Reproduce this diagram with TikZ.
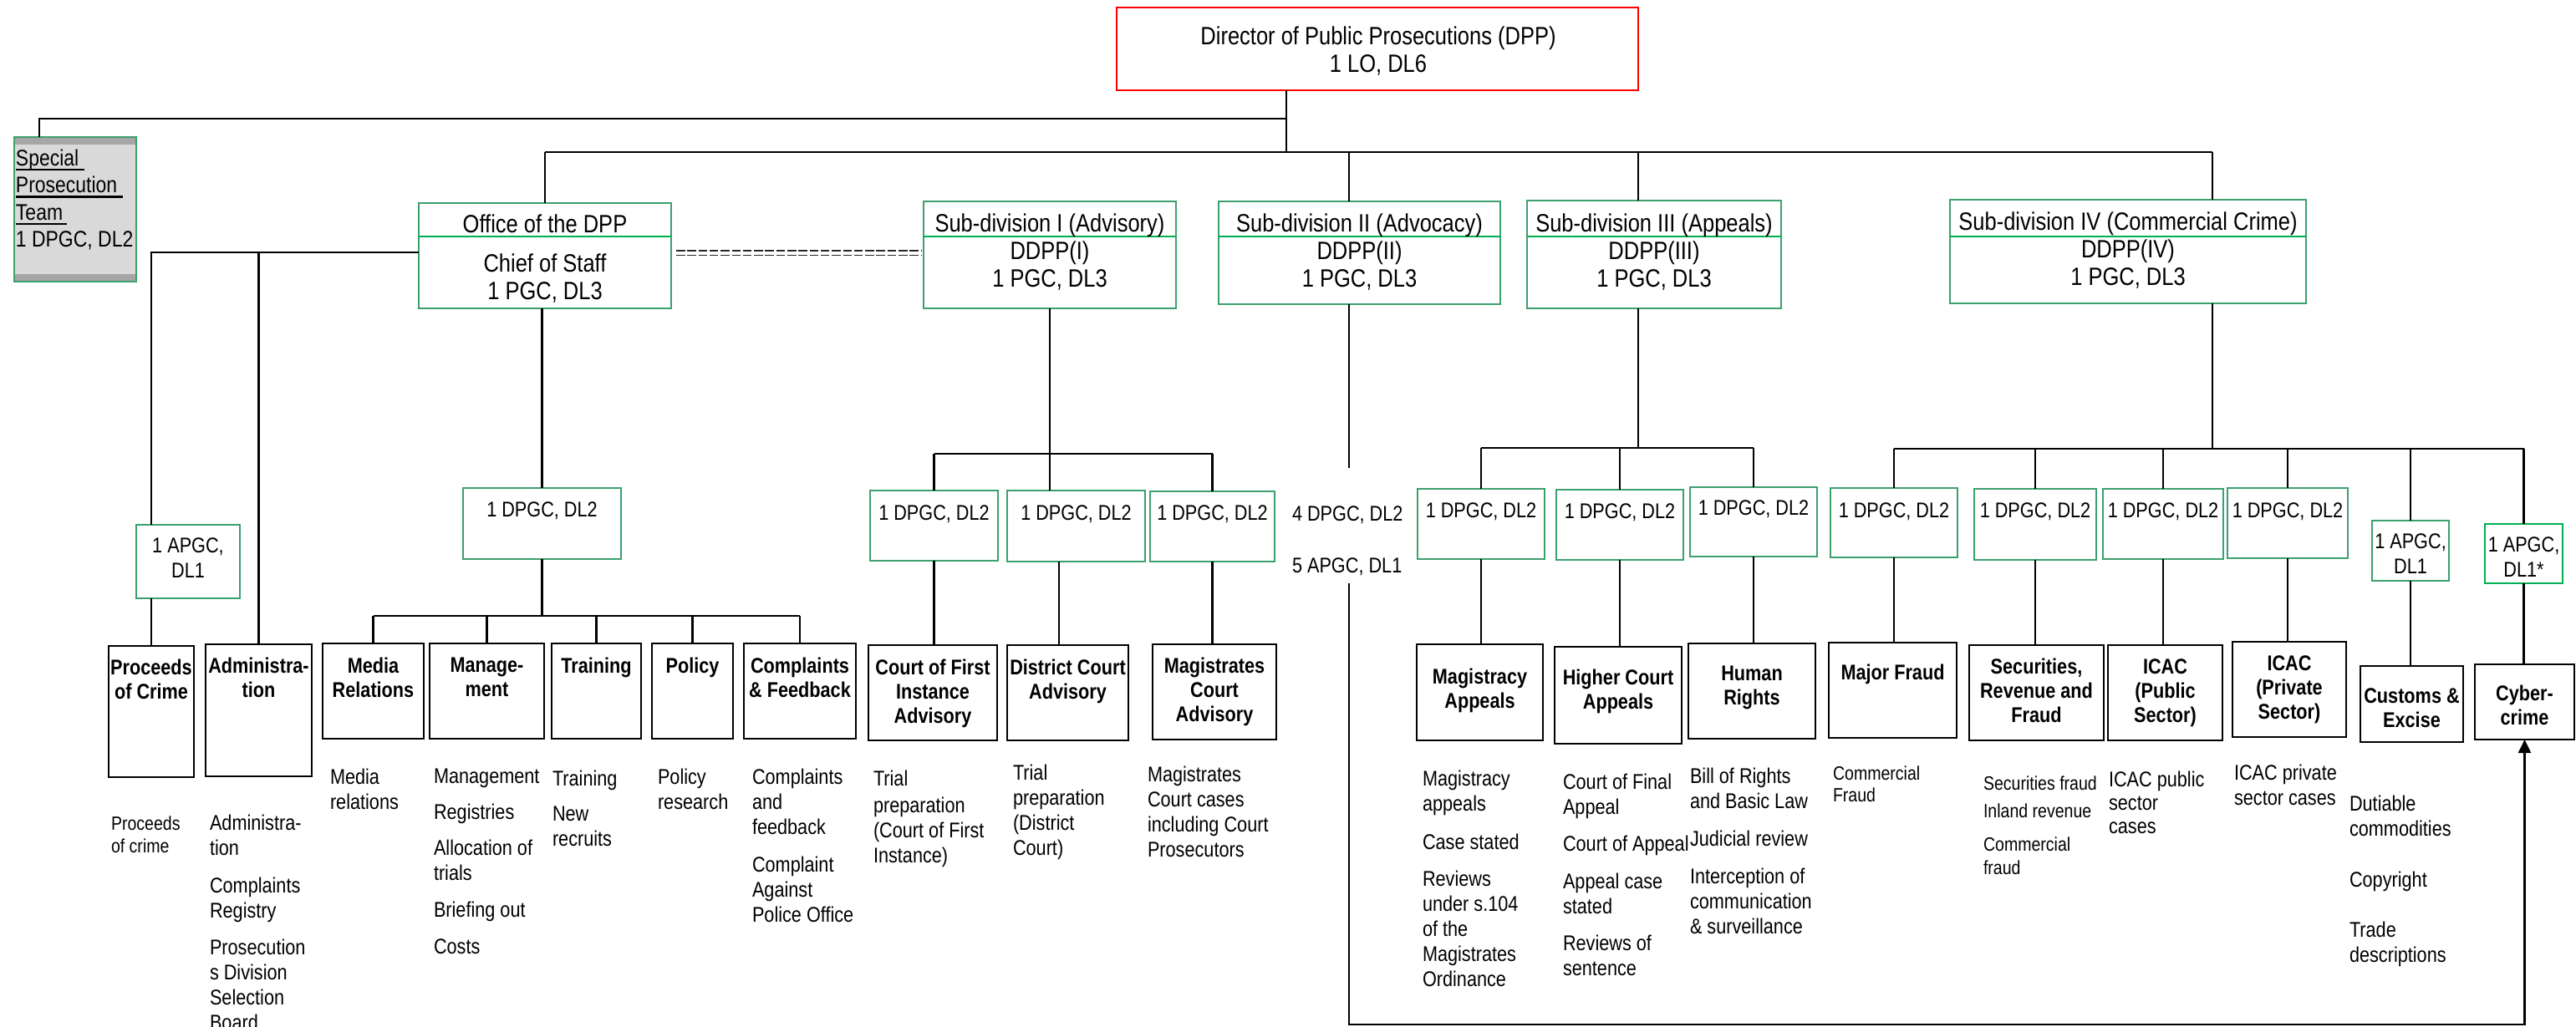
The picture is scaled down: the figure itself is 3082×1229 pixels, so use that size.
\documentclass[tikz,border=0pt]{standalone}
\usepackage{fontspec}
\setmainfont{Liberation Sans}[FakeStretch=0.85]
\usetikzlibrary{arrows.meta}
\definecolor{gA}{RGB}{60,160,110}
\definecolor{gB}{RGB}{0,176,80}
\definecolor{bandgray}{RGB}{166,166,166}
\definecolor{boxgray}{RGB}{217,217,217}
\newcommand\myul[1]{\setbox0=\hbox{#1}\rlap{\rule[-6pt]{\wd0}{2.6pt}}\box0}
\newcommand\B[6]{\node[#1, minimum width={#4-#2}, minimum height={#5-#3}] (#6) at ({(#2+#4)/2},{(#3+#5)/2}) {};}
\begin{document}
\begin{tikzpicture}[x=1pt,y=-1pt,
  every node/.style={inner sep=0pt, outer sep=0pt},
  gbox/.style={draw=gA, line width=2.2pt},
  gboxb/.style={draw=gB, line width=2.2pt},
  bbox/.style={draw=black, line width=2.5pt},
  rbox/.style={draw=red, line width=2.5pt},
  conn/.style={line width=2.3pt, black},
  eqd/.style={line width=1.7pt, black!85, dash pattern=on 10.5pt off 2.8pt},
  hdr/.style={font=\fontsize{30}{33}\selectfont, align=center},
  gtx/.style={font=\fontsize{25.5}{30.5}\selectfont, align=center},
  lbl/.style={font=\bfseries\fontsize{25.5}{29}\selectfont, align=center},
  dsc/.style={font=\fontsize{25.5}{30}\selectfont, align=left, anchor=north west},
  dss/.style={font=\fontsize{23}{27}\selectfont, align=left, anchor=north west},
]
\fill[white] (0,0) rectangle (3082,1229);
\useasboundingbox (0,0) rectangle (3082,1229);

% ---------- top level
\B{rbox}{1336}{9}{1960}{108}{dpp}
\node[hdr, anchor=north] (dppt) at (1649,31.4) {Director of Public Prosecutions (DPP)\\1 LO, DL6};

\B{draw=gA, line width=2.2pt, fill=boxgray}{17}{164}{163}{337}{spt}
\fill[bandgray] (spt.north west) rectangle ([yshift=-9pt]spt.north east);
\fill[bandgray] (spt.south west) rectangle ([yshift=9pt]spt.south east);
\draw[gA, line width=2.2pt] (spt.north west) rectangle (spt.south east);
\node[font=\fontsize{27}{32.5}\selectfont, align=left, anchor=north west] (sptt) at (19,178.6)
  {\myul{Special\ }\\\myul{Prosecution\ }\\\myul{Team\,}\\1 DPGC, DL2};

\coordinate (dv) at (0,283);
\B{gbox}{501}{243}{803}{369}{office}
\draw[gB, line width=2.2pt] (office.west |- dv) -- (office.east |- dv);
\node[hdr, anchor=base] (officet) at (652,278) {Office of the DPP};
\node[hdr, anchor=north] (officeb) at (652,303.4) {Chief of Staff\\1 PGC, DL3};

\B{gbox}{1105}{241}{1407}{369}{sub1}
\draw[gB, line width=2.2pt] (sub1.west |- dv) -- (sub1.east |- dv);
\node[hdr, anchor=base] (sub1t) at (1256,277) {Sub-division I (Advisory)};
\node[hdr, anchor=north] (sub1b) at (1256,288.4) {DDPP(I)\\1 PGC, DL3};

\B{gbox}{1458}{241}{1795}{364}{sub2}
\draw[gB, line width=2.2pt] (sub2.west |- dv) -- (sub2.east |- dv);
\node[hdr, anchor=base] (sub2t) at (1626.5,277) {Sub-division II (Advocacy)};
\node[hdr, anchor=north] (sub2b) at (1626.5,288.4) {DDPP(II)\\1 PGC, DL3};

\B{gbox}{1827}{240}{2131}{369}{sub3}
\draw[gB, line width=2.2pt] (sub3.west |- dv) -- (sub3.east |- dv);
\node[hdr, anchor=base] (sub3t) at (1979,277) {Sub-division III (Appeals)};
\node[hdr, anchor=north] (sub3b) at (1979,288.4) {DDPP(III)\\1 PGC, DL3};

\B{gbox}{2333}{239}{2759}{363}{sub4}
\draw[gB, line width=2.2pt] (sub4.west |- dv) -- (sub4.east |- dv);
\node[hdr, anchor=base] (sub4t) at (2546,275) {Sub-division IV (Commercial Crime)};
\node[hdr, anchor=north] (sub4b) at (2546,286.4) {DDPP(IV)\\1 PGC, DL3};

% ---------- green staff boxes
\B{gbox}{163}{628}{287}{716}{apgc1}
\node[gtx, anchor=north] (apgc1t) at (225,643.6) {1 APGC,\\DL1};
\B{gbox}{554}{584}{743}{669}{odpgc}
\node[gtx, anchor=base] (odpgct) at (648.5,618) {1 DPGC, DL2};
\B{gbox}{1041}{587}{1194}{671}{s1a}
\node[gtx, anchor=base] (s1at) at (1117.5,622) {1 DPGC, DL2};
\B{gbox}{1205}{587}{1370}{672}{s1b}
\node[gtx, anchor=base] (s1bt) at (1287.5,622) {1 DPGC, DL2};
\B{gbox}{1376}{588}{1525}{672}{s1c}
\node[gtx, anchor=base] (s1ct) at (1450.5,622) {1 DPGC, DL2};
\B{gbox}{1696}{585}{1848}{669}{s3a}
\node[gtx, anchor=base] (s3at) at (1772,619) {1 DPGC, DL2};
\B{gbox}{1862}{586}{2014}{670}{s3b}
\node[gtx, anchor=base] (s3bt) at (1938,620) {1 DPGC, DL2};
\B{gbox}{2022}{583}{2174}{666}{s3c}
\node[gtx, anchor=base] (s3ct) at (2098,616) {1 DPGC, DL2};
\B{gbox}{2190}{584}{2342}{667}{s4a}
\node[gtx, anchor=base] (s4at) at (2266,619) {1 DPGC, DL2};
\B{gbox}{2362}{585}{2508}{670}{s4b}
\node[gtx, anchor=base] (s4bt) at (2435,619) {1 DPGC, DL2};
\B{gbox}{2516}{585}{2660}{669}{s4c}
\node[gtx, anchor=base] (s4ct) at (2588,619) {1 DPGC, DL2};
\B{gbox}{2665}{584}{2809}{668}{s4d}
\node[gtx, anchor=base] (s4dt) at (2737,619) {1 DPGC, DL2};
\B{gbox}{2838}{623}{2930}{695}{s4e}
\node[gtx, anchor=north] (s4et) at (2884,638.6) {1 APGC,\\DL1};
\B{gboxb}{2973}{627}{3066}{698}{s4f}
\node[gtx, anchor=north] (s4ft) at (3019.5,642.6) {1 APGC,\\DL1*};

\node[gtx, anchor=base west] (n4) at (1546,623) {4 DPGC, DL2};
\node[gtx, anchor=base west] (n5) at (1546,685) {5 APGC, DL1};

% ---------- black unit boxes
\B{bbox}{130}{773}{232}{930}{poc}
\node[lbl, anchor=north] (poct) at (181,789) {Proceeds\\of Crime};
\B{bbox}{246}{771}{373}{929}{adm}
\node[lbl, anchor=north] (admt) at (309.5,787) {Administra-\\tion};
\B{bbox}{386}{770}{507}{884}{med}
\node[lbl, anchor=north] (medt) at (446.5,787) {Media\\Relations};
\B{bbox}{514}{770}{651}{884}{mgt}
\node[lbl, anchor=north] (mgtt) at (582.5,787) {Manage-\\ment};
\B{bbox}{660}{770}{767}{884}{trn}
\node[lbl, anchor=base] (trnt) at (713.5,805) {Training};
\B{bbox}{780}{770}{877}{884}{pol}
\node[lbl, anchor=base] (polt) at (828.5,805) {Policy};
\B{bbox}{890}{770}{1024}{884}{cmp}
\node[lbl, anchor=north] (cmpt) at (957,787) {Complaints\\\& Feedback};
\B{bbox}{1039}{772}{1193}{886}{cfi}
\node[lbl, anchor=north] (cfit) at (1116,789) {Court of First\\Instance\\Advisory};
\B{bbox}{1205}{772}{1350}{886}{dca}
\node[lbl, anchor=north] (dcat) at (1277.5,789) {District Court\\Advisory};
\B{bbox}{1379}{771}{1527}{885}{mca}
\node[lbl, anchor=north] (mcat) at (1453,787) {Magistrates\\Court\\Advisory};
\B{bbox}{1695}{771}{1846}{886}{mag}
\node[lbl, anchor=north] (magt) at (1770.5,800) {Magistracy\\Appeals};
\B{bbox}{1860}{774}{2012}{890}{hca}
\node[lbl, anchor=north] (hcat) at (1936,801) {Higher Court\\Appeals};
\B{bbox}{2020}{770}{2172}{884}{hr}
\node[lbl, anchor=north] (hrt) at (2096,797) {Human\\Rights};
\B{bbox}{2188}{769}{2341}{883}{mf}
\node[lbl, anchor=base] (mft) at (2264.5,813) {Major Fraud};
\B{bbox}{2356}{772}{2517}{886}{srf}
\node[lbl, anchor=north] (srft) at (2436.5,788) {Securities,\\Revenue and\\Fraud};
\B{bbox}{2522}{772}{2659}{886}{icp}
\node[lbl, anchor=north] (icpt) at (2590.5,789) {ICAC\\(Public\\Sector)};
\B{bbox}{2671}{768}{2807}{882}{icv}
\node[lbl, anchor=north] (icvt) at (2739,785) {ICAC\\(Private\\Sector)};
\B{bbox}{2824}{797}{2947}{888}{cus}
\node[lbl, anchor=north] (cust) at (2885.5,824) {Customs \&\\Excise};
\B{bbox}{2961}{795}{3080}{885}{cyb}
\node[lbl, anchor=north] (cybt) at (3020.5,820) {Cyber-\\crime};

% ---------- descriptions
\node[dss] (pocd) at (133,976.4) {Proceeds\\of crime};
\node[dsc] (admd) at (251,974.6) {Administra-\\tion\\[15pt]Complaints\\Registry\\[14pt]Prosecution\\s Division\\Selection\\Board};
\node[dsc] (medd) at (395,919.6) {Media\\relations};
\node[dsc] (mgtd) at (519,919.6) {Management\\[13pt]Registries\\[13pt]Allocation of\\trials\\[14pt]Briefing out\\[14pt]Costs};
\node[dsc] (trnd) at (661,921.6) {Training\\[12pt]New\\recruits};
\node[dsc] (pold) at (787,919.6) {Policy\\research};
\node[dsc] (cmpd) at (900,919.6) {Complaints\\and\\feedback\\[15pt]Complaint\\Against\\Police Office};
\node[dsc] (cfid) at (1045,921.6) {Trial\\[2pt]preparation\\(Court of First\\Instance)};
\node[dsc] (dcad) at (1212,914.6) {Trial\\preparation\\(District\\Court)};
\node[dsc] (mcad) at (1373,916.6) {Magistrates\\Court cases\\including Court\\Prosecutors};
\node[dsc] (magd) at (1702,921.6) {Magistracy\\appeals\\[16pt]Case stated\\[14pt]Reviews\\under s.104\\of the\\Magistrates\\Ordinance};
\node[dsc] (hcad) at (1870,925.6) {Court of Final\\Appeal\\[14pt]Court of Appeal\\[15pt]Appeal case\\stated\\[14pt]Reviews of\\sentence};
\node[dsc] (hrd) at (2022,918.6) {Bill of Rights\\and Basic Law\\[15pt]Judicial review\\[15pt]Interception of\\communication\\\& surveillance};
\node[dss, font=\fontsize{23}{26}\selectfont] (mfd) at (2193,916.4) {Commercial\\Fraud};
\node[dss, font=\fontsize{23}{28}\selectfont] (srfd) at (2373,928.4) {Securities fraud\\[5pt]Inland revenue\\[12pt]Commercial\\fraud};
\node[dsc, font=\fontsize{25.5}{28}\selectfont] (icpd) at (2523,922.6) {ICAC public\\sector\\cases};
\node[dsc] (icvd) at (2673,914.6) {ICAC private\\sector cases};
\node[dsc] (cusd) at (2811,951.6) {Dutiable\\commodities\\[31pt]Copyright\\[30pt]Trade\\descriptions};

% ---------- connectors
\coordinate (dx) at (1539,0);
\coordinate (sx) at (47,0);
\coordinate (b1y) at (0,142);
\coordinate (b2y) at (0,182);
\coordinate (s2x) at (1614,0);
\coordinate (s3x) at (1960,0);
\coordinate (s4x) at (2647,0);
\draw[conn] (spt.north -| sx) -- (sx |- b1y) -- (dx |- b1y);
\draw[conn] (dpp.south -| dx) -- (dx |- b2y);
\draw[conn] (office.north |- b2y) -- (s4x |- b2y);
\draw[conn] (office.north |- b2y) -- (office.north);
\draw[conn] (s2x |- b2y) -- (sub2.north -| s2x);
\draw[conn] (s3x |- b2y) -- (sub3.north -| s3x);
\draw[conn] (s4x |- b2y) -- (sub4.north -| s4x);

% office of the DPP
\coordinate (oy) at (0,302);
\draw[conn] (office.west |- oy) -| (apgc1.north -| poc.north);
\draw[conn] (adm.north |- oy) -- (adm.north);
\draw[conn] (apgc1.south -| poc.north) -- (poc.north);
\coordinate (eq1) at (0,300);
\coordinate (eq2) at (0,305.5);
\draw[eqd, shorten <=6pt, shorten >=3pt] (office.east |- eq1) -- (sub1.west |- eq1);
\draw[eqd, shorten <=6pt, shorten >=3pt] (office.east |- eq2) -- (sub1.west |- eq2);
\draw[conn] (odpgc.north |- office.south) -- (odpgc.north);
\coordinate (oby) at (0,737);
\draw[conn] (odpgc.south) -- (odpgc.south |- oby);
\draw[conn] (med.north |- oby) -- (cmp.north |- oby);
\foreach \n in {med,mgt,trn,pol,cmp} \draw[conn] (\n.north |- oby) -- (\n.north);

% sub-division I
\coordinate (s1y) at (0,543);
\draw[conn] (sub1.south) -- (sub1.south |- s1b.north);
\draw[conn] (s1a.north |- s1y) -- (s1c.north |- s1y);
\draw[conn] (s1a.north |- s1y) -- (s1a.north);
\draw[conn] (s1c.north |- s1y) -- (s1c.north);
\draw[conn] (s1a.south) -- (s1a.south |- cfi.north);
\coordinate (dcx) at (1267,0);
\draw[conn] (s1b.south -| dcx) -- (dca.north -| dcx);
\draw[conn] (s1c.south) -- (s1c.south |- mca.north);

% sub-division II
\coordinate (s2e) at (1614,560);
\coordinate (s2lo) at (1614,698);
\coordinate (boty) at (0,1226);
\draw[conn] (sub2.south -| s2x) -- (s2e);
\draw[conn, -{Triangle[length=16pt,width=15pt]}] (s2lo) -- (s2lo |- boty) -| (cyb.south);

% sub-division III
\coordinate (s3y) at (0,536);
\draw[conn] (sub3.south -| s3x) -- (s3x |- s3y);
\draw[conn] (s3a.north |- s3y) -- (s3c.north |- s3y);
\foreach \n in {s3a,s3b,s3c} \draw[conn] (\n.north |- s3y) -- (\n.north);
\draw[conn] (s3a.south) -- (s3a.south |- mag.north);
\draw[conn] (s3b.south) -- (s3b.south |- hca.north);
\draw[conn] (s3c.south) -- (s3c.south |- hr.north);

% sub-division IV
\coordinate (s4y) at (0,537);
\draw[conn] (sub4.south -| s4x) -- (s4x |- s4y);
\draw[conn] (s4a.north |- s4y) -- (s4f.north |- s4y);
\foreach \n in {s4a,s4b,s4c,s4d,s4e,s4f} \draw[conn] (\n.north |- s4y) -- (\n.north);
\draw[conn] (s4a.south) -- (s4a.south |- mf.north);
\draw[conn] (s4b.south) -- (s4b.south |- srf.north);
\draw[conn] (s4c.south) -- (s4c.south |- icp.north);
\draw[conn] (s4d.south) -- (s4d.south |- icv.north);
\draw[conn] (s4e.south) -- (s4e.south |- cus.north);
\draw[conn] (s4f.south) -- (s4f.south |- cyb.north);
\end{tikzpicture}
\end{document}
